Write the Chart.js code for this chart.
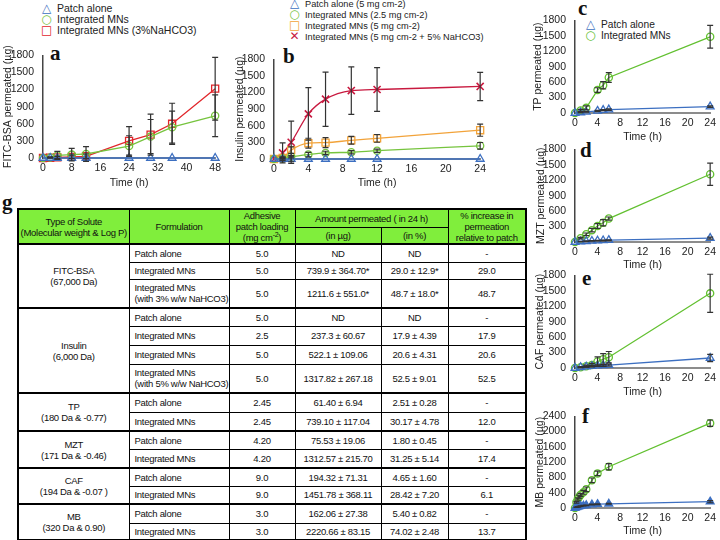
<!DOCTYPE html>
<html>
<head>
<meta charset="utf-8">
<script src="https://cdn.jsdelivr.net/npm/chart.js@4.4.0/dist/chart.umd.min.js"></script>
<style>
  body { margin: 0; width: 720px; height: 540px; position: relative; overflow: hidden; background: #fff;
         font-family: "Liberation Sans Narrow", "Liberation Sans", Arial, sans-serif; color: #222; }
  canvas { position: absolute; }
  .lbl { position: absolute; font-family: "Liberation Serif", "Times New Roman", serif; font-weight: bold;
         font-size: 21px; line-height: 1; color: #111; }
  .legend { position: absolute; color: #222; white-space: nowrap; }
  .legend div { height: 11px; line-height: 11px; }
  .legend b { display: inline-block; width: 11px; font-weight: normal; text-align: center; margin-right: 5px;
              font-size: 12px; font-family: "DejaVu Sans", sans-serif; }
  table { position: absolute; left: 17px; top: 208px; width: 508px; border-collapse: collapse; table-layout: fixed;
          font-size: 9.5px; letter-spacing: -0.3px; line-height: 11px; color: #111; border: 2px solid #000; }
  td, th { border: 1px solid #000; text-align: center; padding: 0; font-weight: normal; white-space: nowrap; overflow: visible; }
  th { background: #80ee3c; }
  td.f { text-align: left; padding-left: 5px; }
  tr.grp td { border-top: 2px solid #000; }
  sup { font-size: 7px; line-height: 0; }
</style>
</head>
<body>

<div class="legend" style="left:41px;top:3px;font-size:10.5px">
  <div><b style="color:#3c6fc1">△</b>Patch alone</div>
  <div><b style="color:#76c43e">○</b>Integrated MNs</div>
  <div><b style="color:#e1262b">□</b>Integrated MNs (3%NaHCO3)</div>
</div>
<div class="legend" style="left:289px;top:-2px;font-size:9.2px">
  <div><b style="color:#3c6fc1">△</b>Patch alone (5 mg cm-2)</div>
  <div><b style="color:#76c43e">○</b>Integrated MNs (2.5 mg cm-2)</div>
  <div><b style="color:#f2a33a">□</b>Integrated MNs (5 mg cm-2)</div>
  <div><b style="color:#c8193f">✕</b>Integrated MNs (5 mg cm-2 + 5% NaHCO3)</div>
</div>
<div class="legend" style="left:585px;top:19px;font-size:10.2px">
  <div><b style="color:#3c6fc1">△</b>Patch alone</div>
  <div><b style="color:#62c030">○</b>Integrated MNs</div>
</div>

<div class="lbl" style="left:50px;top:43px">a</div>
<div class="lbl" style="left:283px;top:46px">b</div>
<div class="lbl" style="left:578px;top:-2px">c</div>
<div class="lbl" style="left:580px;top:140px">d</div>
<div class="lbl" style="left:582px;top:268px">e</div>
<div class="lbl" style="left:582px;top:406px">f</div>
<div class="lbl" style="left:2px;top:192px">g</div>

<table>
  <colgroup><col style="width:111px"><col style="width:100px"><col style="width:66px"><col style="width:86px"><col style="width:67px"><col style="width:78px"></colgroup>
  <tr style="height:18px"><th rowspan="2">Type of Solute<br>(Molecular weight &amp; Log P)</th><th rowspan="2">Formulation</th><th rowspan="2">Adhesive<br>patch loading<br>(mg cm<sup>-2</sup>)</th><th colspan="2">Amount permeated ( in 24 h)</th><th rowspan="2">% increase in<br>permeation<br>relative to patch</th></tr>
  <tr style="height:17px"><th>(in µg)</th><th>(in %)</th></tr>

  <tr class="grp" style="height:18px"><td rowspan="3">FITC-BSA<br>(67,000 Da)</td><td class="f">Patch alone</td><td>5.0</td><td>ND</td><td>ND</td><td>-</td></tr>
  <tr style="height:17px"><td class="f">Integrated MNs</td><td>5.0</td><td>739.9 ± 364.70*</td><td>29.0 ± 12.9*</td><td>29.0</td></tr>
  <tr style="height:29px"><td class="f">Integrated MNs<br>(with 3% w/w NaHCO3)</td><td>5.0</td><td>1211.6 ± 551.0*</td><td>48.7 ± 18.0*</td><td>48.7</td></tr>

  <tr class="grp" style="height:18px"><td rowspan="4">Insulin<br>(6,000 Da)</td><td class="f">Patch alone</td><td>5.0</td><td>ND</td><td>ND</td><td>-</td></tr>
  <tr style="height:19px"><td class="f">Integrated MNs</td><td>2.5</td><td>237.3 ± 60.67</td><td>17.9 ± 4.39</td><td>17.9</td></tr>
  <tr style="height:19px"><td class="f">Integrated MNs</td><td>5.0</td><td>522.1 ± 109.06</td><td>20.6 ± 4.31</td><td>20.6</td></tr>
  <tr style="height:29px"><td class="f">Integrated MNs<br>(with 5% w/w NaHCO3)</td><td>5.0</td><td>1317.82 ± 267.18</td><td>52.5 ± 9.01</td><td>52.5</td></tr>

  <tr class="grp" style="height:19px"><td rowspan="2">TP<br>(180 Da &amp; -0.77)</td><td class="f">Patch alone</td><td>2.45</td><td>61.40 ± 6.94</td><td>2.51 ± 0.28</td><td>-</td></tr>
  <tr style="height:19px"><td class="f">Integrated MNs</td><td>2.45</td><td>739.10 ± 117.04</td><td>30.17 ± 4.78</td><td>12.0</td></tr>

  <tr class="grp" style="height:18px"><td rowspan="2">MZT<br>(171 Da &amp; -0.46)</td><td class="f">Patch alone</td><td>4.20</td><td>75.53 ± 19.06</td><td>1.80 ± 0.45</td><td>-</td></tr>
  <tr style="height:19px"><td class="f">Integrated MNs</td><td>4.20</td><td>1312.57 ± 215.70</td><td>31.25 ± 5.14</td><td>17.4</td></tr>

  <tr class="grp" style="height:18px"><td rowspan="2">CAF<br>(194 Da &amp; -0.07 )</td><td class="f">Patch alone</td><td>9.0</td><td>194.32 ± 71.31</td><td>4.65 ± 1.60</td><td>-</td></tr>
  <tr style="height:18px"><td class="f">Integrated MNs</td><td>9.0</td><td>1451.78 ± 368.11</td><td>28.42 ± 7.20</td><td>6.1</td></tr>

  <tr class="grp" style="height:19px"><td rowspan="2">MB<br>(320 Da &amp; 0.90)</td><td class="f">Patch alone</td><td>3.0</td><td>162.06 ± 27.38</td><td>5.40 ± 0.82</td><td>-</td></tr>
  <tr style="height:17px"><td class="f">Integrated MNs</td><td>3.0</td><td>2220.66 ± 83.15</td><td>74.02 ± 2.48</td><td>13.7</td></tr>
</table>

<script>
// a: FITC-BSA
const timeA = [0, 2, 4, 8, 12, 24, 30, 36, 48];
const patchA = [0, 0, 0, 0, 0, 0, 0, 0, 0];
const mnA = [0, 10, 45, 60, 70, 210, 375, 540, 740];
const mnAErr = [0, 10, 70, 110, 130, 180, 300, 280, 365];
const nahA = [0, 5, 10, 20, 30, 300, 410, 600, 1215];
const nahAErr = [0, 5, 20, 30, 40, 250, 360, 360, 550];

// b: insulin
const timeB = [0, 1, 2, 4, 6, 9, 12, 24];
const patchB = [0, 0, 0, 0, 0, 0, 0, 0];
const patchBErr = [0, 30, 50, 0, 0, 0, 0, 0];
const mn25B = [0, 10, 40, 80, 110, 122, 150, 238];
const mn25BErr = [0, 10, 20, 40, 30, 30, 30, 60];
const mn5B = [0, 20, 160, 285, 296, 337, 372, 520];
const mn5BErr = [0, 20, 60, 90, 90, 70, 70, 109];
const nahB = [0, 110, 302, 815, 1080, 1235, 1255, 1310];
const nahBErr = [0, 180, 380, 475, 490, 430, 395, 255];

// c: TP
const timeC = [0, 1, 2, 4, 5, 6, 24];
const patchC = [0, 10, 20, 40, 55, 65, 125];
const patchCErr = [0, 5, 5, 10, 10, 15, 15];
const mnC = [0, 50, 100, 445, 540, 690, 1480];
const mnCErr = [0, 20, 40, 45, 70, 95, 220];

// d: MZT
const timeD = [0, 1, 2, 3, 4, 5, 6, 24];
const patchD = [0, 10, 15, 20, 25, 30, 35, 75];
const patchDErr = [0, 3, 5, 5, 5, 8, 8, 19];
const mnD = [0, 75, 150, 230, 310, 375, 455, 1315];
const mnDErr = [0, 15, 25, 35, 45, 60, 30, 215];

// e: CAF
const timeE = [0, 1, 2, 3, 4, 5, 6, 24];
const patchE = [0, 15, 25, 35, 45, 50, 55, 194];
const patchEErr = [0, 5, 10, 15, 15, 20, 20, 71];
const mnE = [0, 15, 35, 60, 125, 170, 210, 1450];
const mnEErr = [0, 10, 20, 30, 90, 110, 110, 370];

// f: MB
const timeF = [0, 0.25, 0.5, 0.75, 1, 1.5, 2, 3, 4, 6, 24];
const patchF = [0, 20, 30, 40, 50, 60, 70, 90, 100, 110, 165];
const patchFErr = [0, 5, 5, 5, 5, 8, 8, 10, 10, 10, 27];
const mnF = [0, 150, 235, 295, 345, 410, 490, 725, 905, 1080, 2220];
const mnFErr = [0, 20, 30, 40, 40, 50, 60, 60, 60, 80, 83];

const BLUE = '#3c6fc1', GREEN = '#76c43e', GREEN2 = '#62c030', RED = '#e1262b', ORANGE = '#f2a33a', CRIMSON = '#c8193f';

Chart.defaults.font.family = '"Liberation Sans Narrow", "Liberation Sans", Arial, sans-serif';
Chart.defaults.font.size = 10.5;
Chart.defaults.color = '#222';

// draws mean ± sd whiskers through the scales
const errorBars = {
  id: 'errorBars',
  afterDatasetsDraw(chart) {
    const ctx = chart.ctx, xs = chart.scales.x, ys = chart.scales.y;
    ctx.save();
    ctx.strokeStyle = '#333';
    ctx.lineWidth = 1.2;
    chart.data.datasets.forEach(ds => {
      if (!ds.err) return;
      ds.data.forEach((p, j) => {
        const e = ds.err[j];
        if (!e) return;
        const x = xs.getPixelForValue(p.x);
        const y1 = ys.getPixelForValue(p.y + e);
        const y2 = ys.getPixelForValue(p.y - e);
        ctx.beginPath();
        ctx.moveTo(x, y1); ctx.lineTo(x, y2);
        ctx.moveTo(x - 3, y1); ctx.lineTo(x + 3, y1);
        ctx.moveTo(x - 3, y2); ctx.lineTo(x + 3, y2);
        ctx.stroke();
      });
    });
    ctx.restore();
  }
};

function series(times, vals, errs, style) {
  return Object.assign({
    data: times.map((t, i) => ({ x: t, y: vals[i] })),
    err: errs,
    clip: false,
    borderWidth: 1.3,
    pointBorderWidth: 1.3,
    pointRadius: 4,
    pointBackgroundColor: 'rgba(255,255,255,0)',
    tension: 0
  }, style);
}

const tri = c => ({ borderColor: c, pointStyle: 'triangle', pointRadius: 4.5 });
const circ = c => ({ borderColor: c, pointStyle: 'circle', pointRadius: 3.6 });
const sq = c => ({ borderColor: c, pointStyle: 'rect', pointRadius: 5 });
const cross = c => ({ borderColor: c, pointStyle: 'crossRot', pointRadius: 5, pointBorderWidth: 1.6 });

function panel(box, datasets, yMax, yStep, yTitle) {
  const cv = document.createElement('canvas');
  cv.width = box.w; cv.height = box.h;
  cv.style.left = box.x + 'px'; cv.style.top = box.y + 'px';
  cv.style.width = box.w + 'px'; cv.style.height = box.h + 'px';
  document.body.appendChild(cv);
  return new Chart(cv, {
    type: 'line',
    data: { datasets },
    options: {
      responsive: false,
      animation: false,
      layout: { padding: { top: box.padTop, right: box.padRight, left: 0, bottom: 0 } },
      plugins: { legend: { display: false }, tooltip: { enabled: false } },
      scales: {
        x: {
          type: 'linear', min: 0, max: box.xMax,
          ticks: { stepSize: box.xStep, padding: 4, maxRotation: 0, autoSkip: false, callback: v => String(v) },
          grid: { display: false, drawTicks: false },
          border: { color: '#8c8c8c', width: 2 },
          title: { display: true, text: 'Time (h)', padding: { top: 0, bottom: box.xtPad } },
          afterFit: s => { s.height = box.xH; }
        },
        y: {
          min: 0, max: yMax,
          ticks: { stepSize: yStep, padding: 9, autoSkip: false, callback: v => String(v) },
          grid: { display: false, drawTicks: false },
          border: { color: '#444', width: 1.5 },
          title: { display: true, text: yTitle, padding: { top: box.ytPad, bottom: 0 } },
          afterFit: s => { s.width = box.yW; }
        }
      }
    },
    plugins: [errorBars]
  });
}

panel({ x: 0, y: 40, w: 225, h: 150, padTop: 12, padRight: 9, yW: 43, xH: 32, xMax: 48, xStep: 8, xtPad: 1, ytPad: 1.5 }, [
  series(timeA, patchA, null, tri(BLUE)),
  series(timeA, mnA, mnAErr, circ(GREEN)),
  series(timeA, nahA, nahAErr, sq(RED))
], 1800, 300, 'FITC-BSA permeated (µg)');

const smooth = { tension: 0.4, cubicInterpolationMode: 'monotone' };
panel({ x: 228, y: 44, w: 262, h: 146, padTop: 12, padRight: 8, yW: 46, xH: 31, xMax: 24, xStep: 4, xtPad: 1, ytPad: 5.5 }, [
  series(timeB, patchB, patchBErr, Object.assign(tri(BLUE), smooth)),
  series(timeB, mn25B, mn25BErr, Object.assign(circ(GREEN), smooth)),
  series(timeB, mn5B, mn5BErr, Object.assign(sq(ORANGE), smooth)),
  series(timeB, nahB, nahBErr, Object.assign(cross(CRIMSON), smooth))
], 1800, 300, 'Insulin permeated (µg)');

panel({ x: 530, y: 5, w: 190, h: 140, padTop: 12, padRight: 5, yW: 45, xH: 32, xMax: 24, xStep: 4, xtPad: 2, ytPad: 2 }, [
  series(timeC, patchC, patchCErr, tri(BLUE)),
  series(timeC, mnC, mnCErr, circ(GREEN2))
], 1800, 300, 'TP permeated (µg)');

panel({ x: 530, y: 134, w: 190, h: 140, padTop: 12, padRight: 5, yW: 45, xH: 32, xMax: 24, xStep: 4, xtPad: 3, ytPad: 5 }, [
  series(timeD, patchD, patchDErr, tri(BLUE)),
  series(timeD, mnD, mnDErr, circ(GREEN2))
], 1800, 300, 'MZT permeated (µg)');

panel({ x: 530, y: 260, w: 190, h: 140, padTop: 12, padRight: 5, yW: 45, xH: 32, xMax: 24, xStep: 4, xtPad: 2, ytPad: 4 }, [
  series(timeE, patchE, patchEErr, tri(BLUE)),
  series(timeE, mnE, mnEErr, circ(GREEN2))
], 1800, 300, 'CAF permeated (µg)');

panel({ x: 530, y: 401, w: 190, h: 139, padTop: 12, padRight: 5, yW: 45, xH: 32, xMax: 24, xStep: 4, xtPad: 3, ytPad: 4 }, [
  series(timeF, patchF, patchFErr, Object.assign(tri(BLUE), { pointBackgroundColor: BLUE })),
  series(timeF, mnF, mnFErr, circ(GREEN2))
], 2400, 400, 'MB permeated (µg)');
</script>
</body>
</html>
